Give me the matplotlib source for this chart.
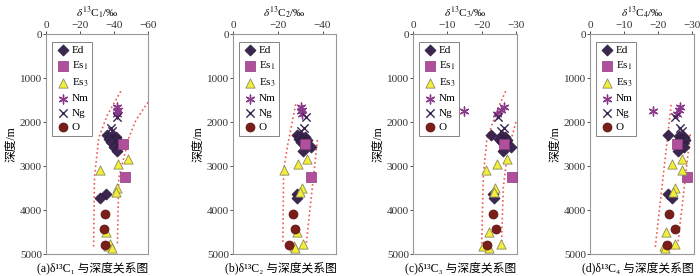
import matplotlib
matplotlib.use("Agg")
import matplotlib.pyplot as plt

plt.rcParams['font.family'] = ['Liberation Serif', 'DejaVu Serif', 'Noto Sans CJK SC']
plt.rcParams['mathtext.fontset'] = 'stix'
plt.rcParams['axes.unicode_minus'] = True

# sample depths (m), shared by the four panels
ed_depth = [2300, 2320, 2350, 2380, 2400, 2420, 2450, 2480, 2560, 2660, 3640, 3730]
es1_depth = [2490, 3250]
es3_depth = [2850, 2950, 3100, 3500, 3580, 4490, 4770, 4810, 4860]
nm_depth = [1650, 1720, 1750, 1820]
ng_depth = [1880, 2140, 2200]
o_depth = [4080, 4430, 4800]

# delta13C values (per mil) for each panel
ed_vals = [
    [-36, -39, -41, -37, -40, -42, -38, -43, -40, -41.5, -35.5, -31.5],
    [-28.7, -30, -32, -29.5, -31, -33, -30.5, -32.5, -34.7, -31.4, -28.7, -28.4],
    [-22.7, -25.9, -26.9, -25, -26.5, -27.5, -26, -27, -28.6, -26.2, -23.3, -23.7],
    [-23, -26, -27.5, -26.5, -27, -28, -26, -27.2, -27.7, -25.8, -23, -24],
]
es1_vals = [[-45, -46.5], [-32.1, -35], [-26.4, -28.9], [-25.5, -28.4]]
es3_vals = [
    [-48.5, -42.6, -32, -42, -41.4, -35.5, -37.4, -36.5, -38.6],
    [-32.9, -29.1, -22.7, -30.6, -29.9, -28.4, -31.4, -27.2, -27.9],
    [-27.4, -24.5, -21.4, -24, -23.5, -22, -25.5, -20.4, -22],
    [-27, -24, -27, -25, -24.2, -22.3, -24.8, -21.6, -22],
]
nm_vals = [[-42, -42.5, -41.5, -42], [-30.5, -31, -30.2, -30.9],
           [-26.6, -25.5, -15, -24.5], [-26.5, -26, -18.6, -25.5]]
ng_vals = [[-42, -38, -39], [-32.4, -31.7, -30.5],
           [-24.7, -26.4, -25.5], [-25, -26.5, -27]]
o_vals = [[-34.5, -34, -34.6], [-26.7, -27.5, -24.9],
          [-23.3, -24.3, -21.7], [-23.2, -25, -22.6]]

# red dotted trend envelopes (x, depth) for each panel
env_left = [
    ([-44, -36, -31, -28.5, -28], [1300, 1850, 2360, 3270, 4840]),
    ([-28, -24.5, -22.6, -22.3], [1600, 2500, 3100, 4750]),
    ([-27, -24.5, -21.5, -20.5, -20], [1300, 1730, 2400, 3200, 4800]),
    ([-23.8, -19.1], [1610, 4870]),
]
env_right = [
    ([-60, -53, -48.7, -42.8, -42], [1550, 1950, 2360, 3270, 4800]),
    ([-37.7, -32.7], [2410, 4780]),
    ([-30, -27.5, -26.3, -25.8], [2000, 2700, 3500, 4750]),
    ([-29.4, -25.8], [2280, 4750]),
]

xlims = [-60, -46, -30.3, -30.5]
xticks = [[0, -20, -40, -60], [0, -20, -40], [0, -10, -20, -30], [0, -10, -20, -30]]
titles = [r'$\delta^{13}$C$_1$/‰', r'$\delta^{13}$C$_2$/‰',
          r'$\delta^{13}$C$_3$/‰', r'$\delta^{13}$C$_4$/‰']
captions = ['(a)δ¹³C₁ 与深度关系图', '(b)δ¹³C₂ 与深度关系图',
            '(c)δ¹³C₃ 与深度关系图', '(d)δ¹³C₄ 与深度关系图']
lefts = [46, 233, 413, 590]
widths = [102, 103, 104, 104]

fig = plt.figure(figsize=(7, 2.76), dpi=100)

for i in range(4):
    ax = fig.add_axes([lefts[i] / 700, 22 / 276, widths[i] / 700, 220 / 276])
    ax.plot(env_left[i][0], env_left[i][1], ls=':', color='#f05a50', lw=1.2)
    ax.plot(env_right[i][0], env_right[i][1], ls=':', color='#f05a50', lw=1.2)

    ax.scatter(ed_vals[i], ed_depth, marker='D', s=32, c='#3b2650', edgecolors='#2a1a3a',
               linewidths=0.5, label='Ed', zorder=3)
    ax.scatter(es1_vals[i], es1_depth, marker='s', s=44, c='#b0509c', edgecolors='#8a3a7a',
               linewidths=0.5, label='Es$_1$', zorder=3)
    ax.scatter(es3_vals[i], es3_depth, marker='^', s=44, c='#f2ee3a', edgecolors='#8a8a60',
               linewidths=0.6, label='Es$_3$', zorder=3)
    ax.scatter(nm_vals[i], nm_depth, marker=(6, 2, 0), s=40, c='#8a3a8a',
               linewidths=1.0, label='Nm', zorder=3)
    ax.scatter(ng_vals[i], ng_depth, marker='x', s=36, c='#3b2650',
               linewidths=1.0, label='Ng', zorder=3)
    ax.scatter(o_vals[i], o_depth, marker='o', s=42, c='#7a1e1a', edgecolors='#5a1010',
               linewidths=0.5, label='O', zorder=3)

    ax.set_xlim(0, xlims[i])
    ax.set_ylim(5000, 0)
    ax.set_xticks(xticks[i])
    ax.set_yticks([0, 1000, 2000, 3000, 4000, 5000])
    ax.xaxis.tick_top()
    ax.xaxis.set_label_position('top')
    ax.tick_params(labelsize=8, length=2, width=0.6, colors='#333333', pad=1)
    for sp in ax.spines.values():
        sp.set_color('#999999')
        sp.set_linewidth(0.8)
    ax.set_xlabel(titles[i], fontsize=8, labelpad=3.5)
    ax.set_ylabel('深度/m', fontsize=8.5, labelpad=1.5)

    leg = ax.legend(loc='upper left', bbox_to_anchor=(0.06, 0.965), fontsize=8,
                    frameon=True, fancybox=False, handletextpad=0.2,
                    borderpad=0.35, labelspacing=0.4, handlelength=1.2,
                    borderaxespad=0)
    leg.get_frame().set_edgecolor('#666666')
    leg.get_frame().set_linewidth(0.7)

    fig.text((lefts[i] + widths[i] / 2 - 4) / 700, 8 / 276, captions[i],
             ha='center', va='center', fontsize=8.5)

fig.savefig('out.png', dpi=100)
